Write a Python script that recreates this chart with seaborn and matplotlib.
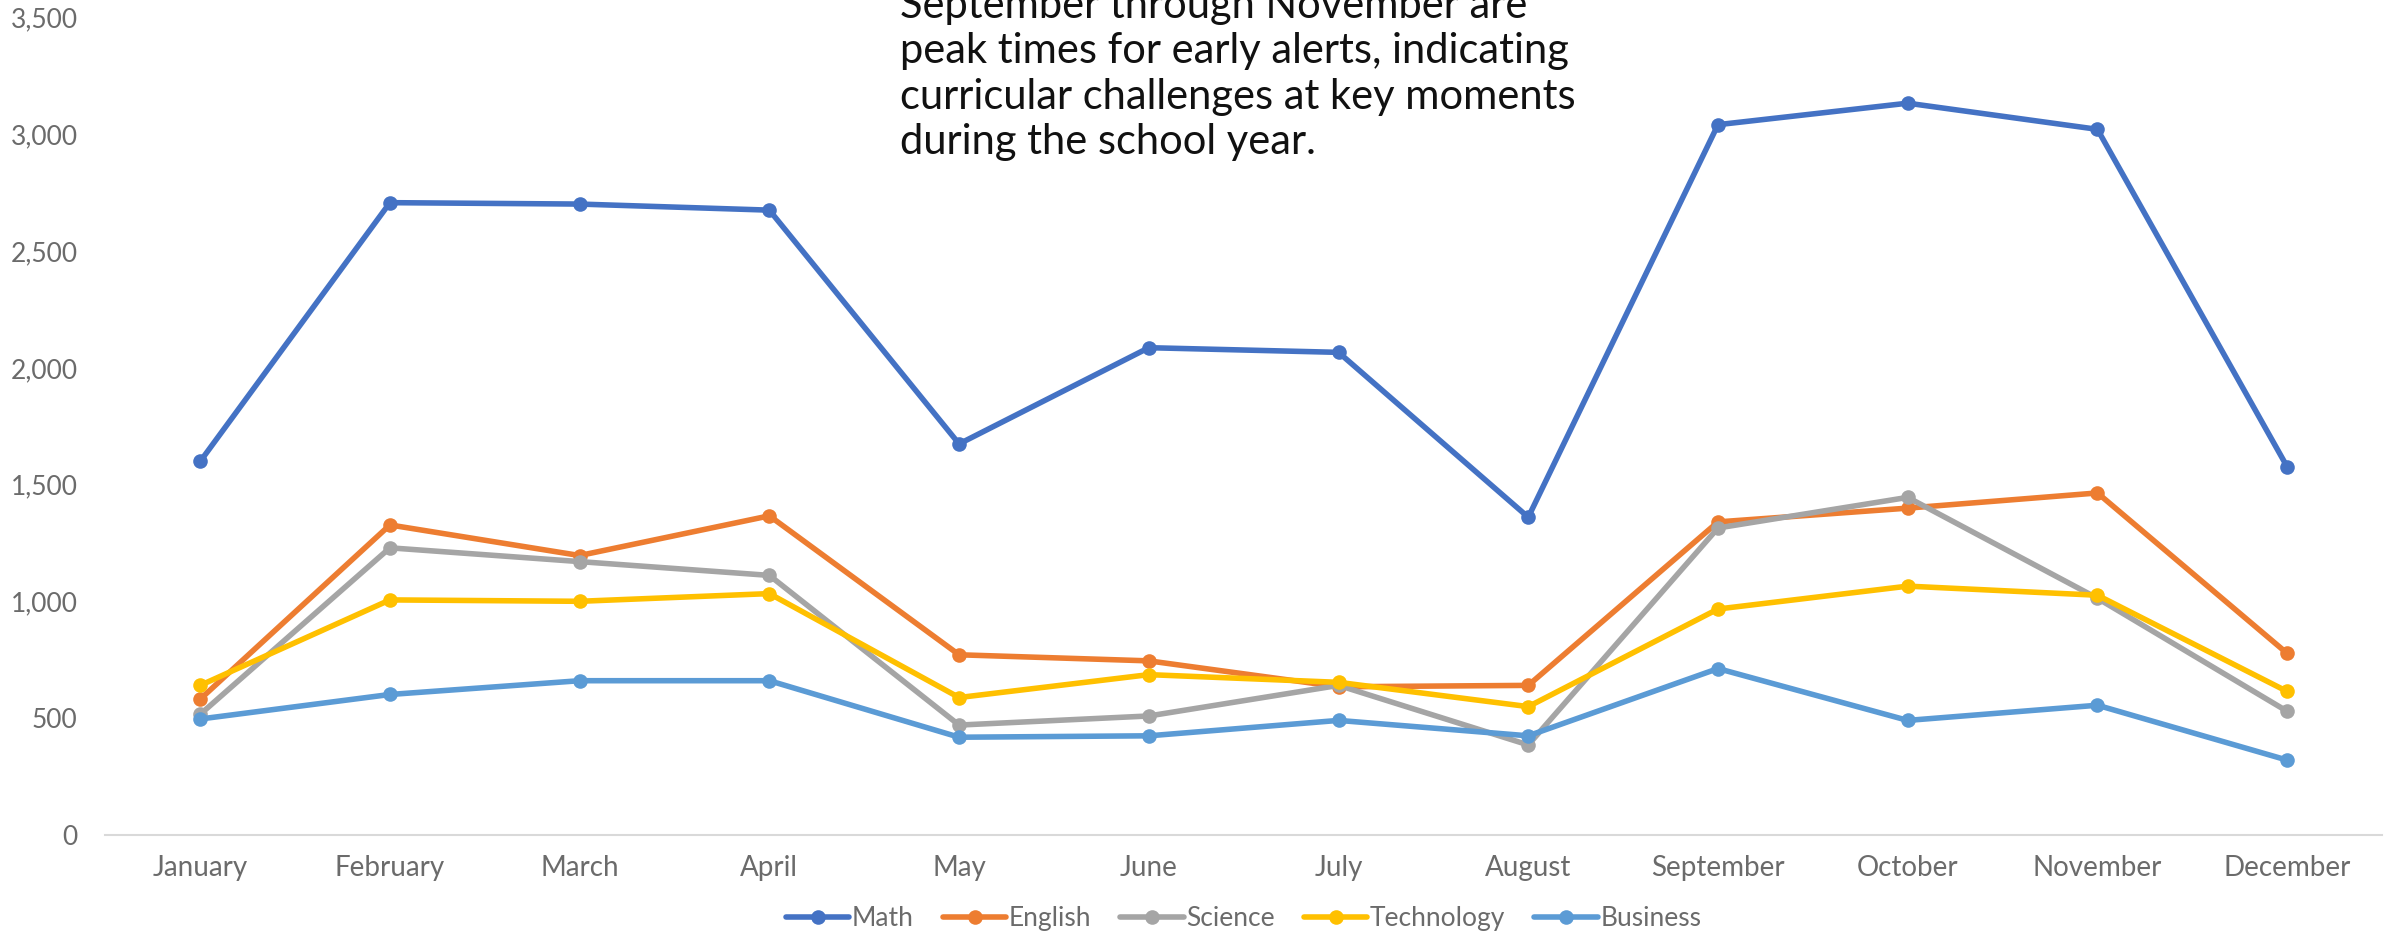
import pandas as pd
import matplotlib
matplotlib.use("Agg")
import matplotlib.pyplot as plt
import seaborn as sns

# ---------------------------------------------------------
# Data
# ---------------------------------------------------------
months = ["January", "February", "March", "April", "May", "June",
          "July", "August", "September", "October", "November", "December"]

math = [1600, 2708, 2702, 2676, 1675, 2087, 2067, 1361, 3042, 3134, 3022, 1577]
english = [582, 1328, 1197, 1367, 772, 746, 635, 641, 1341, 1400, 1465, 778]
science = [517, 1230, 1171, 1112, 471, 510, 641, 386, 1315, 1446, 1014, 530]
technology = [641, 1007, 1001, 1034, 589, 687, 654, 550, 968, 1066, 1027, 615]
business = [497, 602, 661, 661, 419, 425, 491, 425, 713, 491, 556, 321]

subjects = ["Math", "English", "Science", "Technology", "Business"]
colors = ["#4472C4", "#ED7D31", "#A5A5A5", "#FFC000", "#5B9BD5"]

note = ("September through November are\n"
        "peak times for early alerts, indicating\n"
        "curricular challenges at key moments\n"
        "during the school year.")

# long form table for seaborn
df = pd.DataFrame({"Month": months * 5,
                   "Subject": [s for s in subjects for _ in months],
                   "Alerts": math + english + science + technology + business})
df["pos"] = df["Month"].map({m: i for i, m in enumerate(months)})

# ---------------------------------------------------------
# Plot
# ---------------------------------------------------------
sns.set_style("white")
plt.rcParams["font.family"] = ["Lato", "DejaVu Sans"]

fig = plt.figure(figsize=(23.94, 9.32), dpi=100)
ax = fig.add_axes([0.044, 0.104, 0.951, 0.877])

sns.lineplot(data=df, x="pos", y="Alerts", hue="Subject", hue_order=subjects,
             palette=dict(zip(subjects, colors)), marker="o", markersize=10.5,
             markeredgewidth=0, linewidth=4.0, sort=False, ax=ax)

ax.set_xlim(-0.5, 11.5)
ax.set_ylim(0, 3500)
ax.set_xticks(range(len(months)))
ax.set_xticklabels(months)
ax.set_yticks(range(0, 3501, 500))
ax.set_yticklabels([f"{v:,}" for v in range(0, 3501, 500)])
ax.tick_params(axis="x", length=0, labelsize=20, labelcolor="#6B6B6B", pad=14)
ax.tick_params(axis="y", length=0, labelsize=19, labelcolor="#6B6B6B", pad=20)
ax.set_xlabel("")
ax.set_ylabel("")
ax.grid(False)
for side in ["top", "right", "left"]:
    ax.spines[side].set_visible(False)
ax.spines["bottom"].set_color("#D9D9D9")
ax.spines["bottom"].set_linewidth(1.5)

leg = ax.legend(loc="upper center", bbox_to_anchor=(0.5, -0.058), ncol=5,
                frameon=False, fontsize=19, handlelength=2.4, handletextpad=0.1,
                columnspacing=1.1)
for t in leg.get_texts():
    t.set_color("#6B6B6B")

fig.text(0.376, 1.014, note, ha="left", va="top", fontsize=30,
         color="#111111", linespacing=1.24)

fig.savefig("out.png", dpi=100)
